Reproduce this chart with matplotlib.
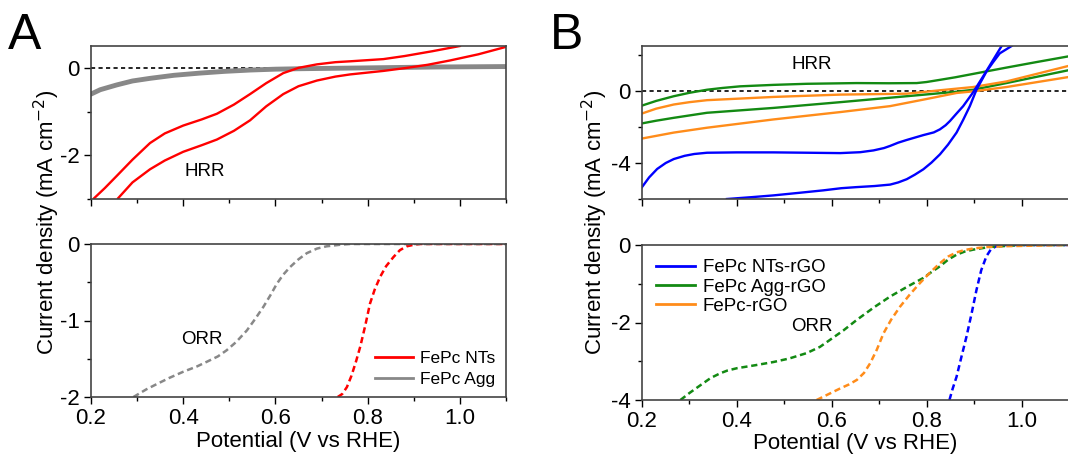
import matplotlib
matplotlib.use("Agg")
import matplotlib.pyplot as plt
from matplotlib.ticker import MultipleLocator

plt.rcParams["font.family"] = ["Liberation Sans", "DejaVu Sans"]
plt.rcParams["axes.unicode_minus"] = False

# ---- Panel A, HRR (top) ----
a_nts_fwd_x = [0.207, 0.23, 0.256, 0.29, 0.328, 0.36, 0.40, 0.44, 0.473, 0.51, 0.545, 0.58, 0.617, 0.65,
               0.69, 0.73, 0.762, 0.834, 0.88, 0.94, 1.0]
a_nts_fwd_y = [-2.98, -2.75, -2.47, -2.1, -1.72, -1.5, -1.32, -1.18, -1.05, -0.84, -0.6, -0.35, -0.12, 0.0,
               0.08, 0.13, 0.15, 0.2, 0.27, 0.38, 0.5]
a_nts_rev_x = [0.259, 0.29, 0.328, 0.36, 0.40, 0.44, 0.473, 0.51, 0.545, 0.58, 0.617, 0.65, 0.69, 0.73,
               0.762, 0.834, 0.885, 0.93, 0.979, 1.04, 1.10]
a_nts_rev_y = [-2.98, -2.62, -2.32, -2.12, -1.92, -1.77, -1.64, -1.44, -1.2, -0.88, -0.6, -0.42, -0.29, -0.2,
               -0.15, -0.07, 0.0, 0.07, 0.17, 0.31, 0.48]
a_agg_x = [0.20, 0.22, 0.256, 0.29, 0.328, 0.38, 0.436, 0.49, 0.545, 0.60, 0.653, 0.80, 0.95, 1.10]
a_agg_y = [-0.60, -0.50, -0.39, -0.30, -0.24, -0.17, -0.12, -0.08, -0.05, -0.03, -0.02, 0.0, 0.02, 0.03]

# ---- Panel A, ORR (bottom) ----
a_orr_agg_x = [0.292, 0.32, 0.343, 0.37, 0.40, 0.43, 0.451, 0.475, 0.494, 0.515, 0.538, 0.556, 0.574, 0.59,
               0.603, 0.617, 0.632, 0.65, 0.668, 0.69, 0.711, 0.74, 0.762, 1.10]
a_orr_agg_y = [-2.0, -1.9, -1.83, -1.75, -1.67, -1.6, -1.54, -1.47, -1.39, -1.28, -1.13, -0.98, -0.82, -0.66,
               -0.52, -0.40, -0.30, -0.20, -0.12, -0.06, -0.03, -0.01, 0.0, 0.0]
a_orr_nts_x = [0.735, 0.745, 0.755, 0.765, 0.775, 0.784, 0.795, 0.805, 0.815, 0.827, 0.84, 0.856, 0.87,
               0.885, 0.90, 0.914, 1.10]
a_orr_nts_y = [-2.0, -1.96, -1.87, -1.72, -1.53, -1.34, -1.06, -0.78, -0.6, -0.43, -0.29, -0.17, -0.08,
               -0.03, -0.01, 0.0, 0.0]

# ---- Panel B, HRR (top) ----
b_agg_up_x = [0.20, 0.23, 0.267, 0.30, 0.337, 0.37, 0.407, 0.477, 0.547, 0.652, 0.72, 0.779, 0.80, 0.828,
              0.86, 0.898, 0.968, 1.03, 1.10]
b_agg_up_y = [-0.81, -0.55, -0.29, -0.10, 0.07, 0.17, 0.26, 0.34, 0.40, 0.44, 0.43, 0.44, 0.50, 0.62,
              0.76, 0.95, 1.30, 1.60, 1.93]
b_agg_lo_x = [0.20, 0.23, 0.267, 0.337, 0.477, 0.618, 0.758, 0.863, 0.898, 0.968, 1.10]
b_agg_lo_y = [-1.80, -1.65, -1.49, -1.21, -0.94, -0.62, -0.29, -0.04, 0.07, 0.44, 1.16]
b_rgo_up_x = [0.20, 0.23, 0.267, 0.30, 0.337, 0.477, 0.618, 0.758, 0.828, 0.898, 0.968, 1.10]
b_rgo_up_y = [-1.25, -0.98, -0.75, -0.62, -0.51, -0.33, -0.20, -0.15, 0.04, 0.22, 0.53, 1.40]
b_rgo_lo_x = [0.20, 0.267, 0.337, 0.477, 0.618, 0.723, 0.793, 0.863, 0.898, 0.968, 1.10]
b_rgo_lo_y = [-2.64, -2.31, -2.04, -1.58, -1.17, -0.84, -0.48, -0.11, -0.02, 0.22, 0.78]
b_nts_up_x = [0.20, 0.215, 0.232, 0.25, 0.267, 0.29, 0.31, 0.337, 0.40, 0.477, 0.55, 0.618, 0.66, 0.688,
              0.71, 0.723, 0.74, 0.758, 0.793, 0.815, 0.828, 0.84, 0.849, 0.862, 0.877, 0.898, 0.919,
              0.940, 0.958]
b_nts_up_y = [-5.34, -4.80, -4.33, -4.00, -3.78, -3.60, -3.50, -3.43, -3.41, -3.41, -3.43, -3.45, -3.40,
              -3.30, -3.17, -3.05, -2.87, -2.72, -2.45, -2.30, -2.13, -1.90, -1.67, -1.28, -0.84, -0.07,
              0.81, 1.72, 2.50]
b_nts_lo_x = [0.379, 0.43, 0.477, 0.53, 0.582, 0.62, 0.652, 0.69, 0.723, 0.74, 0.758, 0.775, 0.793, 0.81,
              0.828, 0.845, 0.863, 0.877, 0.891, 0.905, 0.926, 0.94, 0.954, 0.979]
b_nts_lo_y = [-6.0, -5.90, -5.80, -5.66, -5.52, -5.40, -5.34, -5.28, -5.20, -5.08, -4.90, -4.65, -4.35,
              -3.98, -3.52, -2.98, -2.31, -1.60, -0.84, 0.07, 1.08, 1.60, 2.09, 2.50]

# ---- Panel B, ORR (bottom) ----
b_orr_agg_x = [0.281, 0.30, 0.323, 0.345, 0.365, 0.38, 0.40, 0.44, 0.477, 0.51, 0.547, 0.575, 0.596, 0.625,
               0.653, 0.69, 0.723, 0.76, 0.793, 0.81, 0.828, 0.845, 0.863, 0.88, 0.898, 0.933, 1.0, 1.10]
b_orr_agg_y = [-4.0, -3.82, -3.62, -3.43, -3.31, -3.24, -3.18, -3.10, -3.02, -2.93, -2.79, -2.63, -2.45,
               -2.20, -1.93, -1.60, -1.33, -1.07, -0.85, -0.70, -0.55, -0.38, -0.25, -0.17, -0.12, -0.05,
               0.0, 0.0]
b_orr_rgo_x = [0.568, 0.593, 0.618, 0.636, 0.653, 0.668, 0.681, 0.695, 0.709, 0.725, 0.744, 0.765, 0.786,
               0.808, 0.828, 0.845, 0.863, 0.88, 0.898, 0.93, 0.968, 1.10]
b_orr_rgo_y = [-4.0, -3.85, -3.70, -3.60, -3.48, -3.30, -3.05, -2.70, -2.28, -1.93, -1.59, -1.27, -0.98,
               -0.70, -0.47, -0.30, -0.19, -0.13, -0.09, -0.05, -0.03, 0.0]
b_orr_nts_x = [0.848, 0.855, 0.863, 0.873, 0.884, 0.895, 0.905, 0.915, 0.926, 0.936, 0.947, 0.968, 1.10]
b_orr_nts_y = [-4.0, -3.70, -3.40, -2.90, -2.36, -1.75, -1.16, -0.65, -0.29, -0.10, -0.03, 0.0, 0.0]

RED = "#ff0000"
GRAY = "#888888"
BLUE = "#0000ff"
GREEN = "#138a13"
ORANGE = "#ff8c1a"
FS = 16

W, H = 1068, 458
fig = plt.figure(figsize=(W / 100, H / 100), dpi=100)


def box(l, r, t, b):
    return [l / W, 1 - b / H, (r - l) / W, (b - t) / H]


axA1 = fig.add_axes(box(91, 506, 46, 199))
axA2 = fig.add_axes(box(91, 506, 244, 397))
axB1 = fig.add_axes(box(642, 1069, 46, 199))
axB2 = fig.add_axes(box(642, 1069, 245, 400))

for ax in (axA1, axA2, axB1, axB2):
    ax.set_xlim(0.2, 1.1)
    ax.xaxis.set_major_locator(MultipleLocator(0.2))
    ax.xaxis.set_minor_locator(MultipleLocator(0.1))
    ax.tick_params(which="major", direction="out", length=5, width=1, labelsize=FS, pad=3)
    ax.tick_params(which="minor", direction="out", length=3, width=1)
    for s in ax.spines.values():
        s.set_color("#444444")
        s.set_linewidth(1.2)

for ax in (axA1, axB1):
    ax.tick_params(labelbottom=False)
    ax.axhline(0, color="black", ls=(0, (2.5, 2)), lw=1.2, zorder=1)

# Panel A top
axA1.plot(a_agg_x, a_agg_y, color=GRAY, lw=3.5)
axA1.plot(a_nts_fwd_x, a_nts_fwd_y, color=RED, lw=1.7)
axA1.plot(a_nts_rev_x, a_nts_rev_y, color=RED, lw=1.7)
axA1.set_ylim(-3, 0.5)
axA1.yaxis.set_major_locator(MultipleLocator(2))
axA1.yaxis.set_minor_locator(MultipleLocator(1))
axA1.text(0.447, -2.36, "HRR", fontsize=13.5, ha="center", va="center")

# Panel A bottom
axA2.plot(a_orr_nts_x, a_orr_nts_y, color=RED, lw=1.8, ls=(0, (2.5, 1.5)), label="FePc NTs")
axA2.plot(a_orr_agg_x, a_orr_agg_y, color=GRAY, lw=1.8, ls=(0, (2.5, 1.5)), label="FePc Agg")
axA2.set_ylim(-2, 0)
axA2.yaxis.set_major_locator(MultipleLocator(1))
axA2.yaxis.set_minor_locator(MultipleLocator(0.5))
axA2.text(0.44, -1.25, "ORR", fontsize=13.5, ha="center", va="center")
leg = axA2.legend(loc="lower right", frameon=False, fontsize=12.5, handlelength=2.2,
                  handletextpad=0.4, labelspacing=0.3, borderaxespad=0.2)
for h in leg.get_lines():
    h.set_linestyle("-")
    h.set_linewidth(2)

# Panel B top
axB1.plot(b_agg_up_x, b_agg_up_y, color=GREEN, lw=1.7)
axB1.plot(b_agg_lo_x, b_agg_lo_y, color=GREEN, lw=1.7)
axB1.plot(b_rgo_up_x, b_rgo_up_y, color=ORANGE, lw=1.7)
axB1.plot(b_rgo_lo_x, b_rgo_lo_y, color=ORANGE, lw=1.7)
axB1.plot(b_nts_up_x, b_nts_up_y, color=BLUE, lw=1.7)
axB1.plot(b_nts_lo_x, b_nts_lo_y, color=BLUE, lw=1.7)
axB1.set_ylim(-6, 2.5)
axB1.yaxis.set_major_locator(MultipleLocator(4))
axB1.yaxis.set_minor_locator(MultipleLocator(2))
axB1.text(0.558, 1.45, "HRR", fontsize=13.5, ha="center", va="center")

# Panel B bottom
axB2.plot(b_orr_nts_x, b_orr_nts_y, color=BLUE, lw=1.8, ls=(0, (2.5, 1.5)), label="FePc NTs-rGO")
axB2.plot(b_orr_agg_x, b_orr_agg_y, color=GREEN, lw=1.8, ls=(0, (2.5, 1.5)), label="FePc Agg-rGO")
axB2.plot(b_orr_rgo_x, b_orr_rgo_y, color=ORANGE, lw=1.8, ls=(0, (2.5, 1.5)), label="FePc-rGO")
axB2.set_ylim(-4, 0)
axB2.yaxis.set_major_locator(MultipleLocator(2))
axB2.yaxis.set_minor_locator(MultipleLocator(1))
axB2.text(0.558, -2.1, "ORR", fontsize=13.5, ha="center", va="center")
leg = axB2.legend(loc="upper left", frameon=False, fontsize=13.5, handlelength=2.1,
                  handletextpad=0.4, labelspacing=0.12, borderaxespad=0.35)
for h in leg.get_lines():
    h.set_linestyle("-")
    h.set_linewidth(2)

for ax in (axA2, axB2):
    ax.set_xlabel("Potential (V vs RHE)", fontsize=FS, labelpad=1)

fig.text(47 / W, 1 - 222 / H, "Current density (mA cm$^{-2}$)", rotation=90,
         fontsize=FS, ha="center", va="center")
fig.text(595 / W, 1 - 222 / H, "Current density (mA cm$^{-2}$)", rotation=90,
         fontsize=FS, ha="center", va="center")
fig.text(8 / W, 1 - 36 / H, "A", fontsize=36, ha="left", va="center")
fig.text(550 / W, 1 - 36 / H, "B", fontsize=36, ha="left", va="center")

fig.savefig("out.png", dpi=100)
